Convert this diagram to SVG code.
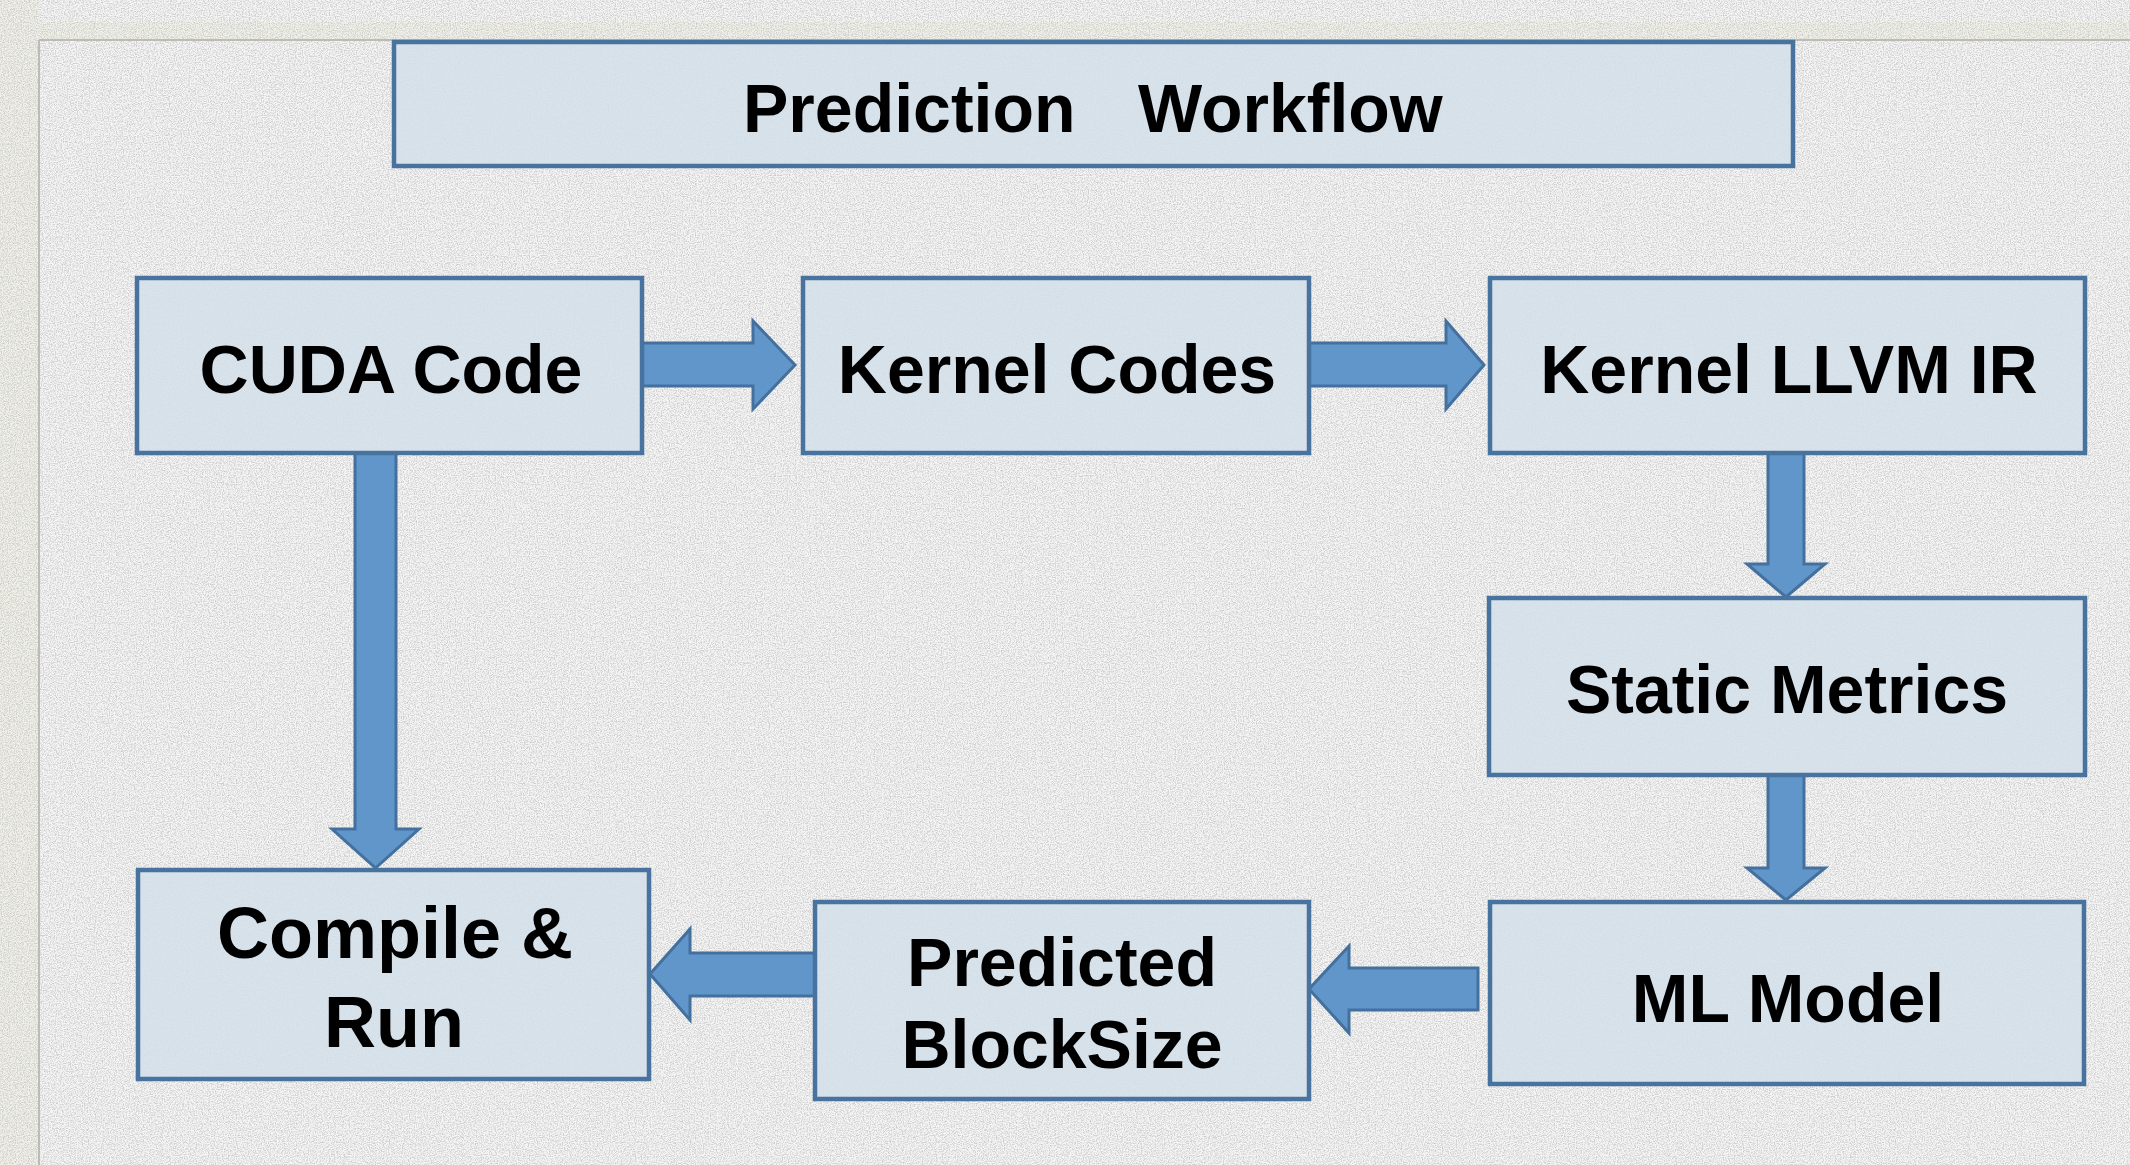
<svg xmlns="http://www.w3.org/2000/svg" width="2130" height="1165" viewBox="0 0 2130 1165">
  <style>
    .box { fill: #d3dfea; fill-opacity: 0.86; stroke: #48739f; stroke-width: 4.5; }
    .arrow { fill: #6196ca; stroke: #44709e; stroke-width: 3; stroke-linejoin: miter; }
    .label { font-family: "Liberation Sans", Arial, Helvetica, sans-serif; font-weight: bold; font-size: 68px; fill: #000; text-anchor: middle; }
    .title { font-family: "Liberation Sans", Arial, Helvetica, sans-serif; font-weight: bold; font-size: 68px; fill: #000; }
  </style>
  <defs>
    <!-- speckled paper texture for the panel background -->
    <filter id="grain" x="0" y="0" width="100%" height="100%" filterUnits="userSpaceOnUse">
      <feTurbulence type="fractalNoise" baseFrequency="0.85" numOctaves="2" seed="11" result="noise"/>
      <feColorMatrix in="noise" type="matrix" values="0 0 0 0 0.55  0 0 0 0 0.55  0 0 0 0 0.55  2.6 0 0 0 -1.1"/>
    </filter>
  </defs>

  <!-- window frame and textured panel -->
  <rect x="0" y="0" width="2130" height="1165" fill="#f0f0e8"/>
  <rect x="39" y="0" width="2091" height="22" fill="#f4f4f4"/>
  <rect x="39" y="40" width="2091" height="1125" fill="#f4f4f4"/>
  <rect x="39" y="0" width="2091" height="22" fill="#fff" filter="url(#grain)" opacity="0.6"/>
  <rect x="39" y="40" width="2091" height="1125" fill="#fff" filter="url(#grain)" opacity="0.6"/>
  <line x1="39" y1="40" x2="2130" y2="40" stroke="#bcbcb4" stroke-width="2"/>
  <line x1="39" y1="40" x2="39" y2="1165" stroke="#bcbcb4" stroke-width="2"/>

  <!-- connectors -->
  <g id="connectors">
    <polygon id="cuda-to-kernels" class="arrow" points="642,343 753,343 753,321 795,365 753,409 753,386 642,386"/>
    <polygon id="kernels-to-llvm" class="arrow" points="1309,343 1446,343 1446,321 1484,365 1446,409 1446,386 1309,386"/>
    <polygon id="llvm-to-metrics" class="arrow" points="1768,453 1804,453 1804,564 1825,564 1786,597 1747,564 1768,564"/>
    <polygon id="metrics-to-model" class="arrow" points="1768,775 1804,775 1804,868 1825,868 1786,900 1747,868 1768,868"/>
    <polygon id="model-to-blocksize" class="arrow" points="1478,968 1349,968 1349,946 1309,989 1349,1033 1349,1010 1478,1010"/>
    <polygon id="blocksize-to-compile" class="arrow" points="815,953 690,953 690,929 650,974 690,1020 690,996 815,996"/>
    <polygon id="cuda-to-compile" class="arrow" points="355,453 396,453 396,829 419,829 375.5,868 332,829 355,829"/>
  </g>

  <!-- title -->
  <g id="title">
    <rect class="box" x="394" y="42" width="1399" height="124"/>
    <text class="title" x="743" y="132">Prediction</text>
    <text class="title" x="1138" y="132">Workflow</text>
  </g>

  <!-- nodes -->
  <g id="cuda-code">
    <rect class="box" x="137" y="278" width="505" height="175"/>
    <text class="label" x="391" y="393">CUDA Code</text>
  </g>
  <g id="kernel-codes">
    <rect class="box" x="803" y="278" width="506" height="175"/>
    <text class="label" x="1057" y="393">Kernel Codes</text>
  </g>
  <g id="kernel-llvm-ir">
    <rect class="box" x="1490" y="278" width="595" height="175"/>
    <text class="label" x="1789" y="393">Kernel LLVM IR</text>
  </g>
  <g id="static-metrics">
    <rect class="box" x="1489" y="598" width="596" height="177"/>
    <text class="label" x="1787" y="713">Static Metrics</text>
  </g>
  <g id="ml-model">
    <rect class="box" x="1490" y="902" width="594" height="182"/>
    <text class="label" x="1788" y="1022">ML Model</text>
  </g>
  <g id="predicted-blocksize">
    <rect class="box" x="815" y="902" width="494" height="197"/>
    <text class="label" x="1062" y="986">Predicted</text>
    <text class="label" x="1062" y="1068">BlockSize</text>
  </g>
  <g id="compile-run">
    <rect class="box" x="138" y="870" width="511" height="209"/>
    <text class="label" x="395" y="958" style="font-size:72px">Compile &amp;</text>
    <text class="label" x="394" y="1047" style="font-size:72px">Run</text>
  </g>
</svg>
